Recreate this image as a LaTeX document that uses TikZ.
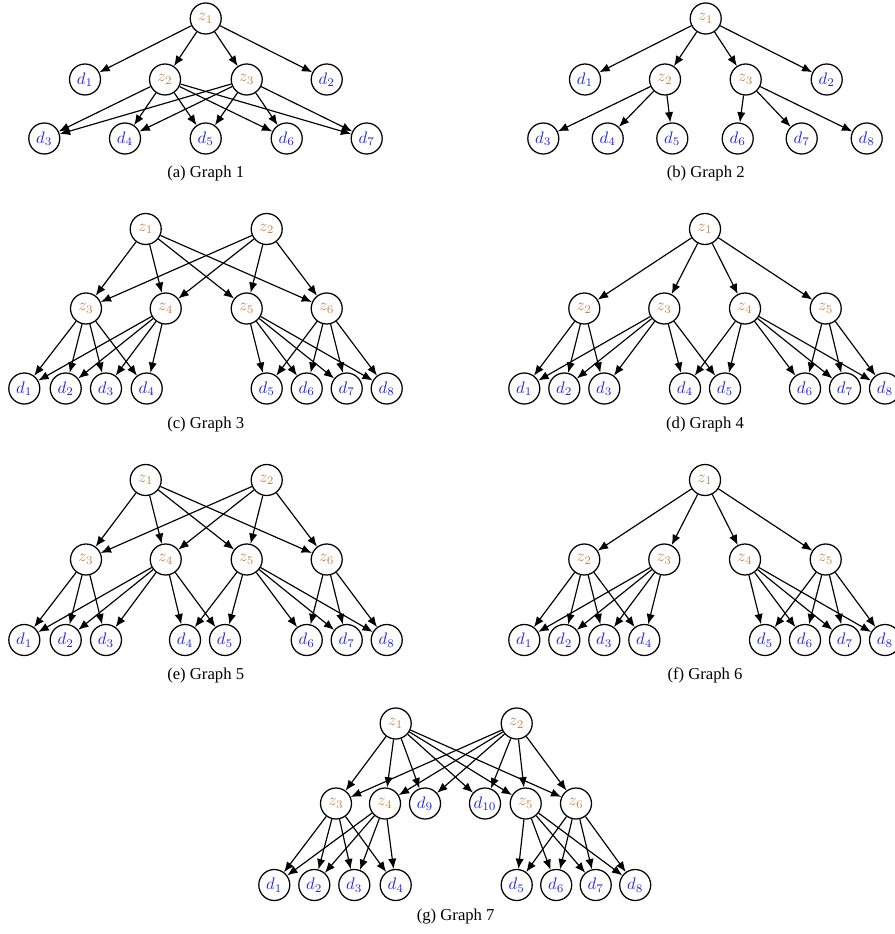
\documentclass[tikz,border=0pt]{standalone}
\usepackage{fontspec}
\setmainfont{Liberation Serif}
\usetikzlibrary{arrows.meta}
\definecolor{zcol}{RGB}{204,136,72}
\definecolor{dcol}{RGB}{35,35,245}
\tikzset{
  vnode/.style={circle, draw, line width=0.75pt, minimum size=18.6pt, inner sep=0pt},
  zn/.style={vnode, text=zcol},
  dn/.style={vnode, text=dcol},
  arr/.style={-{Latex[length=6.2pt,width=5pt]}, line width=0.7pt},
  captxt/.style={font=\fontsize{10}{12}\selectfont}
}
\begin{document}
\begin{tikzpicture}[x=0.6pt,y=-0.6pt]
\useasboundingbox (0,0) rectangle (894,934);

% ---------- (a) Graph 1 ----------
\node[zn] (a-z1) at (205.7,18.5) {$z_1$};
\node[dn] (a-d1) at (85,79.5) {$d_1$};
\node[zn] (a-z2) at (165,79.5) {$z_2$};
\node[zn] (a-z3) at (246.7,79.5) {$z_3$};
\node[dn] (a-d2) at (326.7,79.5) {$d_2$};
\foreach \i/\x in {3/44.3,4/125,5/205.7,6/286.7,7/366.7}
  \node[dn] (a-d\i) at (\x,138.5) {$d_{\i}$};
\foreach \t in {d1,z2,z3,d2} \draw[arr] (a-z1) -- (a-\t);
\foreach \s in {z2,z3} \foreach \i in {3,...,7} \draw[arr] (a-\s) -- (a-d\i);
\node[captxt] (a-cap) at (205.7,173.5) {(a) Graph 1};

% ---------- (b) Graph 2 ----------
\node[zn] (b-z1) at (705.7,18.5) {$z_1$};
\node[dn] (b-d1) at (585,79.5) {$d_1$};
\node[zn] (b-z2) at (665,79.5) {$z_2$};
\node[zn] (b-z3) at (745.7,79.5) {$z_3$};
\node[dn] (b-d2) at (826.7,79.5) {$d_2$};
\foreach \i/\x in {3/543.3,4/607.7,5/672.3,6/737.7,7/801.7,8/866.7}
  \node[dn] (b-d\i) at (\x,138.5) {$d_{\i}$};
\foreach \t in {d1,z2,z3,d2} \draw[arr] (b-z1) -- (b-\t);
\foreach \i in {3,4,5} \draw[arr] (b-z2) -- (b-d\i);
\foreach \i in {6,7,8} \draw[arr] (b-z3) -- (b-d\i);
\node[captxt] (b-cap) at (705.7,173.5) {(b) Graph 2};

% ---------- (c) Graph 3 ----------
\node[zn] (c-z1) at (145.7,229) {$z_1$};
\node[zn] (c-z2) at (266.7,229) {$z_2$};
\foreach \i/\x in {3/86,4/165.7,5/246.7,6/326.7}
  \node[zn] (c-z\i) at (\x,308.5) {$z_{\i}$};
\foreach \i/\x in {1/24.3,2/65.7,3/106,4/146.7,5/266.7,6/306.7,7/346.7,8/386.7}
  \node[dn] (c-d\i) at (\x,388.5) {$d_{\i}$};
\foreach \s in {1,2} \foreach \t in {3,...,6} \draw[arr] (c-z\s) -- (c-z\t);
\foreach \s in {3,4} \foreach \t in {1,...,4} \draw[arr] (c-z\s) -- (c-d\t);
\foreach \s in {5,6} \foreach \t in {5,...,8} \draw[arr] (c-z\s) -- (c-d\t);
\node[captxt] (c-cap) at (205.7,424.5) {(c) Graph 3};

% ---------- (d) Graph 4 ----------
\node[zn] (d-z1) at (705,229) {$z_1$};
\foreach \i/\x in {2/584.3,3/664.3,4/745,5/825.7}
  \node[zn] (d-z\i) at (\x,308.5) {$z_{\i}$};
\foreach \i/\x in {1/524.3,2/564.3,3/604.3,4/685,5/725,6/805,7/845,8/885}
  \node[dn] (d-d\i) at (\x,388.5) {$d_{\i}$};
\foreach \t in {2,...,5} \draw[arr] (d-z1) -- (d-z\t);
\foreach \t in {1,2,3} \draw[arr] (d-z2) -- (d-d\t);
\foreach \t in {1,...,5} \draw[arr] (d-z3) -- (d-d\t);
\foreach \t in {4,...,8} \draw[arr] (d-z4) -- (d-d\t);
\foreach \t in {6,7,8} \draw[arr] (d-z5) -- (d-d\t);
\node[captxt] (d-cap) at (705,424.5) {(d) Graph 4};

% ---------- (e) Graph 5 ----------
\node[zn] (e-z1) at (145.7,480) {$z_1$};
\node[zn] (e-z2) at (266.7,480) {$z_2$};
\foreach \i/\x in {3/86,4/165.7,5/246.7,6/326.7}
  \node[zn] (e-z\i) at (\x,559.5) {$z_{\i}$};
\foreach \i/\x in {1/24.3,2/65.7,3/106,4/185,5/225,6/306.7,7/346.7,8/386.7}
  \node[dn] (e-d\i) at (\x,640) {$d_{\i}$};
\foreach \s in {1,2} \foreach \t in {3,...,6} \draw[arr] (e-z\s) -- (e-z\t);
\foreach \t in {1,2,3} \draw[arr] (e-z3) -- (e-d\t);
\foreach \t in {1,...,5} \draw[arr] (e-z4) -- (e-d\t);
\foreach \t in {4,...,8} \draw[arr] (e-z5) -- (e-d\t);
\foreach \t in {6,7,8} \draw[arr] (e-z6) -- (e-d\t);
\node[captxt] (e-cap) at (205.7,675) {(e) Graph 5};

% ---------- (f) Graph 6 ----------
\node[zn] (f-z1) at (705,480) {$z_1$};
\foreach \i/\x in {2/584.3,3/664.3,4/745,5/825.7}
  \node[zn] (f-z\i) at (\x,559.5) {$z_{\i}$};
\foreach \i/\x in {1/524.3,2/564.3,3/604.3,4/644.3,5/765,6/805,7/845,8/885}
  \node[dn] (f-d\i) at (\x,640) {$d_{\i}$};
\foreach \t in {2,...,5} \draw[arr] (f-z1) -- (f-z\t);
\foreach \s in {2,3} \foreach \t in {1,...,4} \draw[arr] (f-z\s) -- (f-d\t);
\foreach \s in {4,5} \foreach \t in {5,...,8} \draw[arr] (f-z\s) -- (f-d\t);
\node[captxt] (f-cap) at (705,675) {(f) Graph 6};

% ---------- (g) Graph 7 ----------
\node[zn] (g-z1) at (395.7,723.5) {$z_1$};
\node[zn] (g-z2) at (516.7,723.5) {$z_2$};
\node[zn] (g-z3) at (336,803.5) {$z_3$};
\node[zn] (g-z4) at (385,803.5) {$z_4$};
\node[dn] (g-d9) at (425,803.5) {$d_9$};
\node[dn] (g-d10) at (485,803.5) {$d_{10}$};
\node[zn] (g-z5) at (525.7,803.5) {$z_5$};
\node[zn] (g-z6) at (576,803.5) {$z_6$};
\foreach \i/\x in {1/274.3,2/314.3,3/354.3,4/395.7,5/516.7,6/556.2,7/595.7,8/635.2}
  \node[dn] (g-d\i) at (\x,885) {$d_{\i}$};
\foreach \s in {1,2} \foreach \t in {z3,z4,d9,d10,z5,z6} \draw[arr] (g-z\s) -- (g-\t);
\foreach \s in {3,4} \foreach \t in {1,...,4} \draw[arr] (g-z\s) -- (g-d\t);
\foreach \s in {5,6} \foreach \t in {5,...,8} \draw[arr] (g-z\s) -- (g-d\t);
\node[captxt] (g-cap) at (455.7,917) {(g) Graph 7};
\end{tikzpicture}
\end{document}
